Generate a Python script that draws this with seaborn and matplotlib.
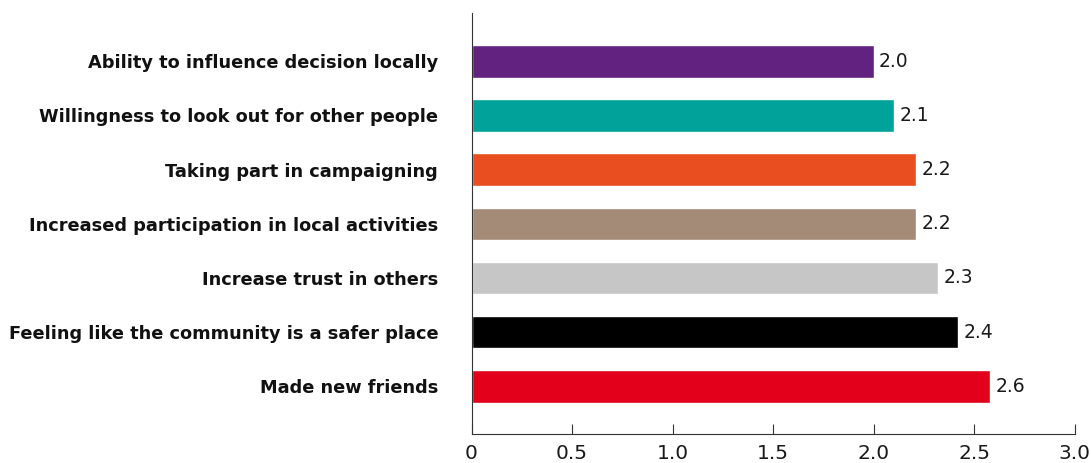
import matplotlib
matplotlib.use("Agg")
import matplotlib.pyplot as plt
import seaborn as sns
import pandas as pd

categories = [
    "Ability to influence decision locally",
    "Willingness to look out for other people",
    "Taking part in campaigning",
    "Increased participation in local activities",
    "Increase trust in others",
    "Feeling like the community is a safer place",
    "Made new friends",
]
values = [2.0, 2.1, 2.21, 2.21, 2.32, 2.42, 2.58]
labels = ["2.0", "2.1", "2.2", "2.2", "2.3", "2.4", "2.6"]
colors = ["#62227F", "#00A29A", "#E84E1F", "#A48B78", "#C6C6C6", "#000000", "#E2001A"]
xticks = [0, 0.5, 1.0, 1.5, 2.0, 2.5, 3.0]
xticklabels = ["0", "0.5", "1.0", "1.5", "2.0", "2.5", "3.0"]

sns.set_theme(style="white")
plt.rcParams["font.family"] = ["DejaVu Sans"]

df = pd.DataFrame({"cat": categories, "val": values})

fig = plt.figure(figsize=(10.91, 4.63), dpi=100)
left, right = 471.5 / 1091, 1074.5 / 1091
bottom, top = 1 - 434.3 / 463, 1 - 13.3 / 463
ax = fig.add_axes([left, bottom, right - left, top - bottom])

sns.barplot(data=df, x="val", y="cat", hue="cat", palette=colors, legend=False,
            width=0.6, ax=ax, saturation=1)

for cont, lab in zip(ax.containers, labels):
    ax.bar_label(cont, labels=[lab], padding=4, fontsize=13.5, color="#1a1a1a")

ax.set_xlim(0, 3.0)
ax.set_ylim(6.886, -0.886)
ax.set_xticks(xticks)
ax.set_xticklabels(xticklabels, fontsize=14.5, color="#1a1a1a")
ax.set_xlabel("")
ax.set_ylabel("")
for t in ax.get_yticklabels():
    t.set_fontweight("bold")
    t.set_fontsize(12.75)
    t.set_color("#111111")
ax.tick_params(axis="y", length=0, pad=24)
ax.tick_params(axis="x", direction="in", length=7.2, width=0.8, color="#333333",
               bottom=True, pad=7)
sns.despine(ax=ax, top=True, right=True)
ax.spines["left"].set_color("#333333")
ax.spines["bottom"].set_color("#333333")
ax.spines["left"].set_linewidth(0.8)
ax.spines["bottom"].set_linewidth(0.8)

fig.savefig("out.png", dpi=100)
